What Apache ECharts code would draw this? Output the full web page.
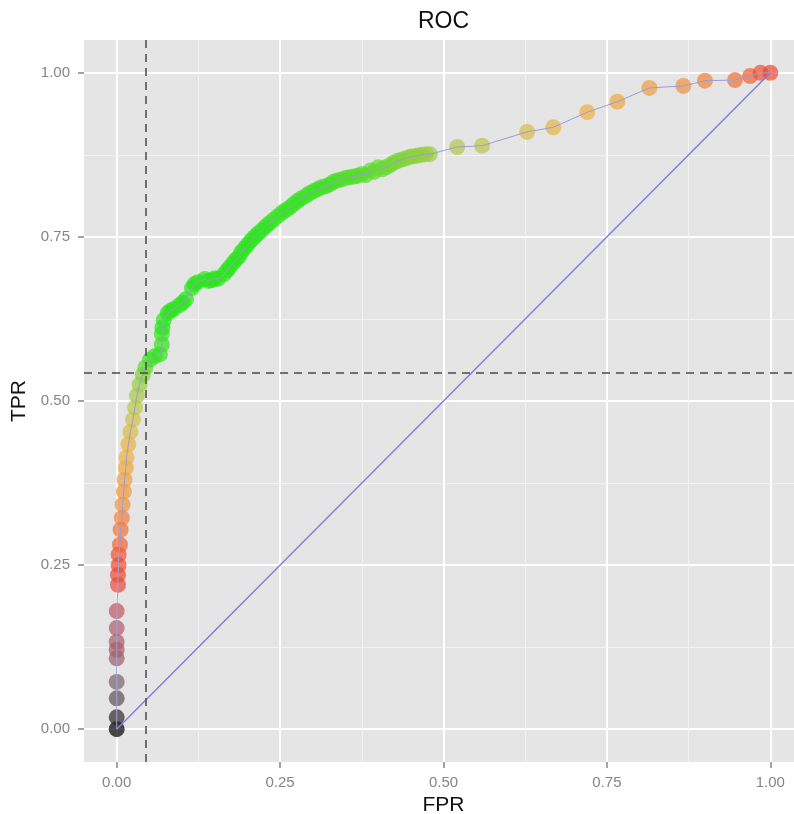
<!DOCTYPE html>
<html>
<head>
<meta charset="utf-8">
<title>ROC</title>
<script src="https://cdn.jsdelivr.net/npm/echarts@6/dist/echarts.min.js"></script>
<style>
  html, body { margin: 0; padding: 0; background: #fff; }
  #chart { width: 794px; height: 814px; }
</style>
</head>
<body>
<div id="chart"></div>
<script>
// points of the ROC curve
const fpr = [
  0.000, 0.000, 0.000, 0.000, 0.000, 0.000, 0.000, 0.000, 0.000,
  0.002, 0.002, 0.003, 0.003, 0.005, 0.006, 0.008, 0.009, 0.011, 0.012,
  0.014, 0.015, 0.018, 0.021, 0.025, 0.028, 0.031, 0.035, 0.040, 0.044,
  0.051, 0.058, 0.066, 0.069, 0.069, 0.070, 0.072, 0.078, 0.082, 0.087,
  0.096, 0.101, 0.106, 0.115, 0.119, 0.124, 0.135, 0.140, 0.145, 0.150,
  0.155, 0.164, 0.169, 0.173, 0.178, 0.182, 0.187, 0.191, 0.196, 0.201,
  0.206, 0.211, 0.216, 0.222, 0.228, 0.234, 0.240, 0.247, 0.253, 0.259,
  0.265, 0.271, 0.277, 0.283, 0.290, 0.296, 0.302, 0.308, 0.314, 0.320,
  0.326, 0.332, 0.338, 0.345, 0.351, 0.357, 0.363, 0.369, 0.375, 0.381,
  0.388, 0.394, 0.400, 0.406, 0.412, 0.418, 0.424, 0.430, 0.437, 0.443,
  0.449, 0.455, 0.461, 0.467, 0.473, 0.479,
  0.521, 0.559, 0.628, 0.668, 0.720, 0.766, 0.815, 0.867, 0.900, 0.946,
  0.969, 0.985, 1.000
];
const tpr = [
  0.000, 0.018, 0.047, 0.072, 0.108, 0.121, 0.133, 0.154, 0.180,
  0.220, 0.235, 0.250, 0.266, 0.281, 0.304, 0.322, 0.342, 0.362, 0.380,
  0.398, 0.414, 0.434, 0.453, 0.472, 0.490, 0.508, 0.525, 0.540, 0.551,
  0.563, 0.568, 0.571, 0.586, 0.602, 0.612, 0.623, 0.634, 0.637, 0.640,
  0.646, 0.650, 0.655, 0.672, 0.678, 0.681, 0.686, 0.683, 0.684, 0.687,
  0.686, 0.693, 0.699, 0.704, 0.710, 0.715, 0.720, 0.727, 0.733, 0.739,
  0.745, 0.750, 0.755, 0.760, 0.766, 0.771, 0.776, 0.782, 0.787, 0.791,
  0.795, 0.800, 0.805, 0.809, 0.813, 0.817, 0.820, 0.823, 0.826, 0.827,
  0.830, 0.834, 0.836, 0.838, 0.840, 0.841, 0.842, 0.843, 0.846, 0.844,
  0.851, 0.849, 0.856, 0.853, 0.856, 0.859, 0.863, 0.866, 0.868, 0.870,
  0.872, 0.873, 0.874, 0.875, 0.876, 0.876,
  0.887, 0.889, 0.910, 0.917, 0.940, 0.956, 0.977, 0.980, 0.988, 0.989,
  0.995, 1.000, 1.000
];
// colour variable of each point (0 = green ... 1 = black)
const cost = [
  1.00, 0.95, 0.90, 0.87, 0.80, 0.79, 0.78, 0.76, 0.72,
  0.65, 0.63, 0.62, 0.61, 0.58, 0.55, 0.53, 0.50, 0.47, 0.44,
  0.41, 0.38, 0.35, 0.31, 0.27, 0.23, 0.19, 0.15, 0.11, 0.07,
  0.04, 0.03, 0.02, 0.02, 0.02, 0.01, 0.01, 0.01, 0.01, 0.01,
  0.01, 0.01, 0.01, 0.01, 0.01, 0.01, 0.01, 0.01, 0.01, 0.01,
  0.01, 0.01, 0.01, 0.01, 0.01, 0.01, 0.01, 0.01, 0.01, 0.01,
  0.01, 0.01, 0.01, 0.01, 0.01, 0.01, 0.02, 0.02, 0.02, 0.02,
  0.02, 0.02, 0.02, 0.02, 0.03, 0.03, 0.03, 0.03, 0.03, 0.04,
  0.04, 0.04, 0.04, 0.05, 0.05, 0.05, 0.05, 0.06, 0.06, 0.06,
  0.07, 0.07, 0.07, 0.08, 0.08, 0.09, 0.09, 0.10, 0.10, 0.11,
  0.11, 0.12, 0.12, 0.13, 0.14, 0.15,
  0.20, 0.22, 0.30, 0.33, 0.38, 0.41, 0.45, 0.50, 0.52, 0.55,
  0.58, 0.61, 0.63
];
const diagonal = [[0, 0], [1, 1]];
const cutFpr = 0.0445;
const cutTpr = 0.5435;
const majorTicks = [0, 0.25, 0.5, 0.75, 1];
const minorTicks = [0.125, 0.375, 0.625, 0.875];

const curve = fpr.map((x, i) => [x, tpr[i]]);
const points = fpr.map((x, i) => [x, tpr[i], cost[i]]);

const chart = echarts.init(document.getElementById('chart'));

const labelStyle = {
    customValues: majorTicks,
    formatter: v => v.toFixed(2),
    color: '#858585',
    fontSize: 15
};
const tickStyle = {
    customValues: majorTicks,
    length: 6,
    lineStyle: { color: '#858585', width: 1.5 }
};

const option = {
    animation: false,
    textStyle: { fontFamily: 'Liberation Sans' },
    graphic: [{
        type: 'text',
        x: 443.5,
        y: 22,
        style: {
            text: 'ROC',
            fontSize: 23,
            fontFamily: 'Liberation Sans',
            fill: '#111',
            align: 'center',
            verticalAlign: 'middle'
        }
    }],
    grid: {
        left: 84,
        top: 40,
        width: 719,
        height: 722,
        show: true,
        backgroundColor: '#e5e5e5',
        borderWidth: 0,
        outerBoundsMode: 'none',
        containLabel: false
    },
    visualMap: {
        show: false,
        type: 'continuous',
        seriesIndex: 2,
        dimension: 2,
        min: 0,
        max: 1,
        inRange: {
            color: ['#22e81a', '#90d040', '#c8c450', '#f0b040', '#f09040',
                    '#f04830', '#b85a6a', '#786468', '#000000']
        }
    },
    xAxis: [
        {
            type: 'value',
            min: -0.05,
            max: 1.05,
            position: 'bottom',
            axisLine: { show: false, onZero: false },
            axisTick: tickStyle,
            axisLabel: { ...labelStyle, margin: 13 },
            splitLine: { show: true, lineStyle: { color: '#ffffff', width: 2 } },
            name: 'FPR',
            nameLocation: 'middle',
            nameGap: 29,
            nameTextStyle: { fontSize: 21, color: '#111' }
        },
        {
            // minor grid lines
            type: 'value',
            min: -0.05,
            max: 1.05,
            position: 'top',
            axisLine: { show: false, onZero: false },
            axisTick: { show: false, customValues: minorTicks },
            axisLabel: { show: false },
            splitLine: { show: true, lineStyle: { color: '#f3f3f3', width: 1 } }
        }
    ],
    yAxis: [
        {
            type: 'value',
            min: -0.05,
            max: 1.05,
            position: 'left',
            axisLine: { show: false, onZero: false },
            axisTick: tickStyle,
            axisLabel: { ...labelStyle, margin: 14 },
            splitLine: { show: true, lineStyle: { color: '#ffffff', width: 2 } },
            name: 'TPR',
            nameLocation: 'middle',
            nameGap: 52,
            nameTextStyle: { fontSize: 21, color: '#111' }
        },
        {
            type: 'value',
            min: -0.05,
            max: 1.05,
            position: 'right',
            axisLine: { show: false, onZero: false },
            axisTick: { show: false, customValues: minorTicks },
            axisLabel: { show: false },
            splitLine: { show: true, lineStyle: { color: '#f3f3f3', width: 1 } }
        }
    ],
    series: [
        {
            name: 'Chance',
            type: 'line',
            data: diagonal,
            showSymbol: false,
            silent: true,
            lineStyle: { color: '#7f7fe0', width: 1.5 }
        },
        {
            name: 'ROC line',
            type: 'line',
            data: curve,
            showSymbol: false,
            silent: true,
            lineStyle: { color: '#9c9cd4', width: 1 }
        },
        {
            name: 'ROC',
            type: 'scatter',
            data: points,
            symbolSize: 16,
            itemStyle: { opacity: 0.7 }
        },
        {
            // optimal cut-off
            name: 'Cutoff',
            type: 'line',
            data: [],
            markLine: {
                silent: true,
                symbol: 'none',
                label: { show: false },
                lineStyle: { color: '#4a4a4a', width: 1.5, type: [8, 6] },
                data: [
                    [{ coord: [cutFpr, -0.05] }, { coord: [cutFpr, 1.05] }],
                    [{ coord: [-0.05, cutTpr] }, { coord: [1.05, cutTpr] }]
                ]
            }
        }
    ]
};

chart.setOption(option);
</script>
</body>
</html>
